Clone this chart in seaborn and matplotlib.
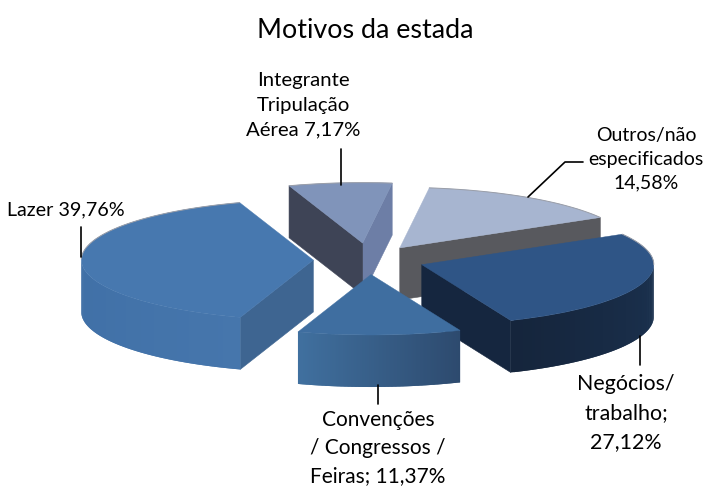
import numpy as np
import matplotlib
matplotlib.use("Agg")
import matplotlib.pyplot as plt
from matplotlib.patches import Polygon
import seaborn as sns

# ---- data (pie order, counter-clockwise) ----
categories = ["Lazer", "Convenções / Congressos / Feiras", "Negócios/trabalho",
              "Outros/não especificados", "Integrante Tripulação Aérea"]
values = [39.76, 11.37, 27.12, 14.58, 7.17]
explode = [0.24, 0.24, 0.24, 0.24, 0.28]
title = "Motivos da estada"

# ---- styles ----
top_colors = ["#4778AF", "#3F6EA0", "#2F5586", "#A7B5D0", "#8094BA"]
wall_left = ["#3F6FA6", "#40709F", "#15253C", "#58595E", "#3E4456"]
wall_right = ["#4676AC", "#2D4A6E", "#1B3250", "#58595E", "#3E4456"]
radial_start = ["#3E6591", "#3E6591", "#15263F", "#58595E", "#6D7EA6"]
radial_end = ["#3E6591", "#3E6591", "#15263F", "#58595E", "#3E4456"]
paint_rank = [3, 5, 4, 2, 1]

W, H = 706, 489
CX, CY, RX, RY, DEPTH = 369, 261, 232, 60.5, 52

sns.set_theme(style="white")
plt.rcParams["font.family"] = ["Lato", "DejaVu Sans"]

fig = plt.figure(figsize=(W / 100, H / 100), dpi=100, facecolor="white")
ax = fig.add_axes([0, 0, 1, 1])
wedges, _ = ax.pie(values, explode=explode, startangle=108.5, colors=top_colors,
                   radius=1, wedgeprops=dict(linewidth=0))
ax.set_aspect("auto")
ax.set_xlim(-CX / RX, (W - CX) / RX)
ax.set_ylim((CY - H) / RY, CY / RY)
ax.axis("off")
d = DEPTH / RY


def add_quad(pts, color, z, lw=0.4):
    ax.add_patch(Polygon(pts, closed=True, facecolor=color, edgecolor=color,
                         linewidth=lw, zorder=z))


for i, w in enumerate(wedges):
    z = paint_rank[i] * 10
    (x0, y0), t1, t2 = w.center, w.theta1, w.theta2
    w.set_zorder(z + 3)
    w.set_edgecolor(top_colors[i])
    w.set_linewidth(0.3)

    def rim(t):
        rad = np.radians(t)
        return x0 + np.cos(rad) * w.r, y0 + np.sin(rad) * w.r

    # flat cut faces that look towards the viewer
    for t, normal, col in ((t1, t1 - 90, radial_start[i]), (t2, t2 + 90, radial_end[i])):
        if np.sin(np.radians(normal)) < 0:
            xr, yr = rim(t)
            add_quad([(x0, y0), (xr, yr), (xr, yr - d), (x0, y0 - d)], col, z)

    # curved outer wall: overlapping strips with a left-to-right shade
    ts = np.linspace(t1, t2, 121)
    vis = ts[np.sin(np.radians(ts)) <= 0]
    if len(vis) > 1:
        shades = sns.blend_palette([wall_left[i], wall_right[i]], len(vis))
        for j, a in enumerate(vis[:-1]):
            b = vis[min(j + 2, len(vis) - 1)]
            xm, ym = rim(np.linspace(a, b, 4))
            pts = list(zip(xm, ym)) + list(zip(xm[::-1], ym[::-1] - d))
            add_quad(pts, shades[j], z + 1, lw=0)

    # soft grey line along the back of the rim
    back = ts[np.sin(np.radians(ts)) > 0]
    if len(back) > 1:
        xb, yb = rim(back)
        ax.plot(xb, yb, color="#9A9EA8", linewidth=0.7, zorder=z + 4,
                solid_capstyle="round")


def fx(px):
    return px / W


def fy(py):
    return 1 - py / H


fig.text(fx(365), fy(30), title, ha="center", va="center", fontsize=19.4, color="black")

labels = [
    ("Integrante\nTripulação\nAérea 7,17%", 303.5, 105, 14.7, 1.57),
    ("Outros/não\nespecificados\n14,58%", 646, 159, 14, 1.5),
    ("Lazer 39,76%", 66, 210, 14.2, 1.2),
    ("Negócios/\ntrabalho;\n27,12%", 626, 413, 15.4, 1.55),
    ("Convenções\n/ Congressos /\nFeiras; 11,37%", 378, 448, 15.0, 1.52),
]
for txt, px, py, fs, ls in labels:
    fig.text(fx(px), fy(py), txt, ha="center", va="center", fontsize=fs,
             linespacing=ls, color="black", zorder=100)

leaders = [
    [(341, 150), (341, 186)],
    [(583, 163), (565, 163), (528, 198)],
    [(81, 228), (81, 258)],
    [(640, 337), (640, 366)],
    [(378, 386), (378, 405)],
]
for pts in leaders:
    xs = [fx(p[0]) for p in pts]
    ys = [fy(p[1]) for p in pts]
    fig.add_artist(plt.Line2D(xs, ys, color="black", linewidth=1.2, zorder=90))

fig.savefig("out.png", dpi=100, facecolor="white")
